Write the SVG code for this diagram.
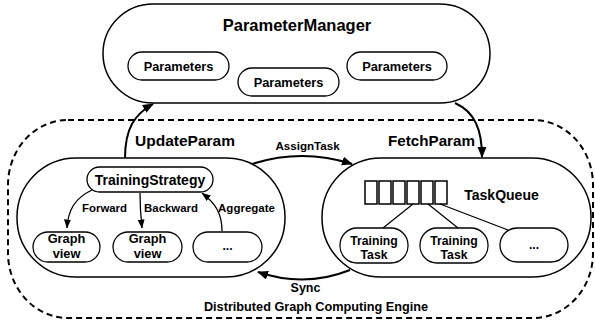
<svg xmlns="http://www.w3.org/2000/svg" width="595" height="320" viewBox="0 0 595 320">
<defs>
<marker id="ah" markerUnits="userSpaceOnUse" markerWidth="11" markerHeight="10" refX="10" refY="4.5" orient="auto">
<path d="M0,0 L11,4.5 L0,9 z" fill="#000"/>
</marker>
<marker id="ahs" markerUnits="userSpaceOnUse" markerWidth="9" markerHeight="8" refX="8.5" refY="3.5" orient="auto">
<path d="M0,0 L9,3.5 L0,7 z" fill="#000"/>
</marker>
<style>
text{font-family:"Liberation Sans",Arial,Helvetica,sans-serif;font-weight:bold;fill:#000;text-anchor:middle;dominant-baseline:central}
.box{fill:#fff;stroke:#000;stroke-width:1.5}
.pill{fill:#fff;stroke:#000;stroke-width:1.3}
.arr{fill:none;stroke:#000;stroke-width:2;marker-end:url(#ah)}
.thin{fill:none;stroke:#000;stroke-width:1.3}
.arr2{fill:none;stroke:#000;stroke-width:1.3;marker-end:url(#ahs)}
.cell{fill:#fff;stroke:#000;stroke-width:1.5}
</style>
</defs>
<rect width="595" height="320" fill="#fff"/>
<g id="engine">
<rect x="8" y="120" width="585" height="198" rx="60" ry="65" fill="none" stroke="#000" stroke-width="2" stroke-dasharray="6,4"/>
<text x="316" y="307" font-size="12.7">Distributed Graph Computing Engine</text>
</g>
<g id="parameter-manager">
<rect class="box" x="103" y="4" width="387" height="99" rx="50"/>
<text x="297" y="25" font-size="16.5">ParameterManager</text>
</g>
<g id="params1"><rect class="pill" x="128" y="52" width="101" height="28" rx="14"/><text x="178.5" y="66" font-size="12.8">Parameters</text></g>
<g id="params2"><rect class="pill" x="238" y="68" width="101" height="28" rx="14"/><text x="288.5" y="82" font-size="12.8">Parameters</text></g>
<g id="params3"><rect class="pill" x="347" y="52" width="100" height="28" rx="14"/><text x="397" y="66" font-size="12.8">Parameters</text></g>
<g id="left-box"><rect class="box" x="17" y="158" width="268" height="119" rx="59"/></g>
<g id="right-box"><rect class="box" x="322" y="158" width="269" height="119" rx="59"/></g>
<g id="training-strategy"><rect class="pill" x="87" y="167" width="126" height="25" rx="12.5"/><text x="150" y="180" font-size="14">TrainingStrategy</text></g>
<g id="graph-view1"><rect class="pill" x="33" y="232" width="67" height="30" rx="15"/><text x="66.5" y="238.5" font-size="12.8">Graph</text><text x="66.5" y="253.5" font-size="12.8">view</text></g>
<g id="graph-view2"><rect class="pill" x="113" y="232" width="69" height="30" rx="15"/><text x="147.5" y="238.5" font-size="12.8">Graph</text><text x="147.5" y="253.5" font-size="12.8">view</text></g>
<g id="graph-more"><rect class="pill" x="193" y="232" width="69" height="30" rx="15"/><text x="227.5" y="246" font-size="12">...</text></g>
<g id="task-queue">
<rect class="cell" x="365" y="181" width="12" height="23"/>
<rect class="cell" x="379" y="181" width="12" height="23"/>
<rect class="cell" x="393" y="181" width="12" height="23"/>
<rect class="cell" x="407" y="181" width="12" height="23"/>
<rect class="cell" x="421" y="181" width="12" height="23"/>
<rect class="cell" x="435" y="181" width="12" height="23"/>
<text x="501.5" y="195" font-size="14">TaskQueue</text>
</g>
<g id="training-task1"><rect class="pill" x="340" y="228" width="68" height="35" rx="17"/><text x="374" y="240.5" font-size="12.2">Training</text><text x="374" y="254.5" font-size="12.2">Task</text></g>
<g id="training-task2"><rect class="pill" x="420" y="228" width="68" height="35" rx="17"/><text x="454" y="240.5" font-size="12.2">Training</text><text x="454" y="254.5" font-size="12.2">Task</text></g>
<g id="task-more"><rect class="pill" x="500" y="228" width="68" height="34" rx="17"/><text x="534" y="245" font-size="12">...</text></g>
<g id="connectors">
<path class="arr" d="M125,158 C125,128 135,114 153,104"/>
<text x="185" y="140" font-size="15.5">UpdateParam</text>
<path class="arr" d="M455,103 C475,112 482,130 482,157"/>
<text x="431.5" y="140" font-size="15.2">FetchParam</text>
<path class="arr" d="M252,164 Q302,148 352,164"/>
<text x="307.5" y="145" font-size="11.6">AssignTask</text>
<path class="arr" d="M350,270 Q305,288 258,272"/>
<text x="305.5" y="288" font-size="12.5">Sync</text>
<path class="arr2" d="M92,190 C75,198 68,210 67,228"/>
<text x="104.5" y="208" font-size="11.4">Forward</text>
<path class="arr2" d="M140,193 Q140,210 142,228"/>
<text x="171" y="208" font-size="11.4">Backward</text>
<path class="arr2" d="M222,231 C222,213 215,203 202,193"/>
<text x="246.5" y="208" font-size="11.5">Aggregate</text>
<line class="thin" x1="413" y1="204" x2="383" y2="228"/>
<line class="thin" x1="428" y1="204" x2="458" y2="228"/>
<line class="thin" x1="440" y1="204" x2="508" y2="230"/>
</g>
</svg>
